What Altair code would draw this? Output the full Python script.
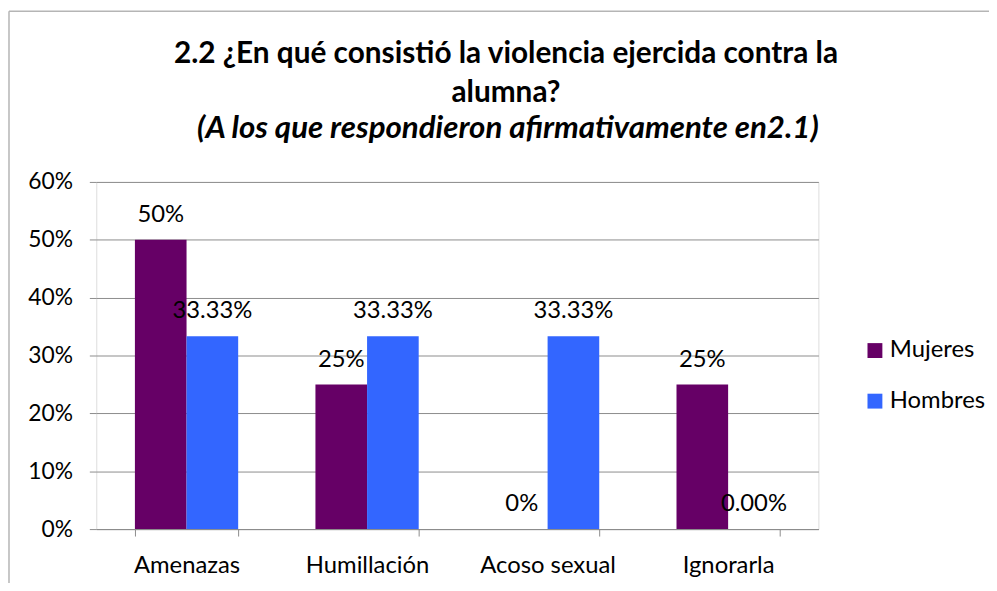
import altair as alt
import pandas as pd

categories = ["Amenazas", "Humillación", "Acoso sexual", "Ignorarla"]
series = ["Mujeres", "Hombres"]
mujeres = [0.50, 0.25, 0.0, 0.25]
hombres = [0.3333, 0.3333, 0.3333, 0.0]
mujeres_labels = ["50%", "25%", "0%", "25%"]
hombres_labels = ["33.33%", "33.33%", "33.33%", "0.00%"]
colors = ["#660066", "#3366FF"]
y_ticks = [0.0, 0.1, 0.2, 0.3, 0.4, 0.5, 0.6]

title_lines = ["2.2 ¿En qué consistió la violencia ejercida contra la", "alumna?"]
subtitle_line = "(A los que respondieron afirmativamente en2.1)"

rows = []
for i, c in enumerate(categories):
    rows.append({"cat": c, "serie": "Mujeres", "value": mujeres[i], "label": mujeres_labels[i]})
    rows.append({"cat": c, "serie": "Hombres", "value": hombres[i], "label": hombres_labels[i]})
df = pd.DataFrame(rows)

FONT = "Lato"
GRID = "#8c8c8c"

x_enc = alt.X(
    "cat:N",
    sort=categories,
    title=None,
    scale=alt.Scale(paddingInner=0.428, paddingOuter=0.214),
    axis=alt.Axis(
        labelAngle=0,
        tickBand="extent",
        tickSize=7,
        tickColor=GRID,
        domainColor=GRID,
        labelFontSize=24,
        labelFont=FONT,
        labelColor="black",
        labelPadding=18,
        grid=False,
    ),
)
xoff = alt.XOffset("serie:N", sort=series, scale=alt.Scale(paddingInner=0, paddingOuter=0))
y_enc = alt.Y(
    "value:Q",
    scale=alt.Scale(domain=[0, 0.6]),
    axis=alt.Axis(
        values=y_ticks,
        format=".0%",
        title=None,
        domain=False,
        tickSize=7,
        tickColor=GRID,
        gridColor=GRID,
        labelFontSize=23,
        labelFont=FONT,
        labelColor="black",
        labelPadding=17,
    ),
)
color_enc = alt.Color(
    "serie:N",
    sort=series,
    scale=alt.Scale(domain=series, range=colors),
    legend=alt.Legend(
        title=None,
        orient="none",
        legendX=773,
        legendY=158,
        symbolType="square",
        symbolSize=225,
        symbolStrokeWidth=0,
        labelFontSize=24,
        labelFont=FONT,
        labelColor="black",
        rowPadding=27,
        labelOffset=3,
    ),
)

base = alt.Chart(df)
bars = base.mark_bar().encode(x=x_enc, xOffset=xoff, y=y_enc, color=color_enc)
labels = base.mark_text(dy=-25, fontSize=24, font=FONT, color="black").encode(
    x=alt.X("cat:N", sort=categories), xOffset=xoff, y="value:Q", text="label:N"
)

one = pd.DataFrame({"a": [0]})
border_left = alt.Chart(one).mark_rule(color="#b5b5b5", strokeWidth=1.5).encode(
    x=alt.value(-88), y=alt.value(-172), y2=alt.value(410)
)
border_top = alt.Chart(one).mark_rule(color="#b5b5b5", strokeWidth=1.5).encode(
    x=alt.value(-88), x2=alt.value(900), y=alt.value(-172)
)

title1 = alt.Chart(one).mark_text(
    text=title_lines[0], font=FONT, fontSize=30, fontWeight="bold", color="black",
    align="center", baseline="alphabetic"
).encode(x=alt.value(413), y=alt.value(-120))
title2 = alt.Chart(one).mark_text(
    text=title_lines[1], font=FONT, fontSize=30, fontWeight="bold", color="black",
    align="center", baseline="alphabetic"
).encode(x=alt.value(413), y=alt.value(-81))
title3 = alt.Chart(one).mark_text(
    text=subtitle_line, font=FONT, fontSize=31.5, fontWeight="bold", fontStyle="italic",
    color="black", align="center", baseline="alphabetic"
).encode(x=alt.value(415), y=alt.value(-44))

chart = (
    alt.layer(border_left, border_top, title1, title2, title3, bars, labels)
    .properties(
        width=728,
        height=350,
        autosize=alt.AutoSizeParams(type="none"),
        padding={"left": 89, "top": 173, "right": 172, "bottom": 52},
    )
    .configure_view(stroke=None)
    .configure(background="white")
)

chart.save("out.html", embed_options={"renderer": "svg", "actions": False})
